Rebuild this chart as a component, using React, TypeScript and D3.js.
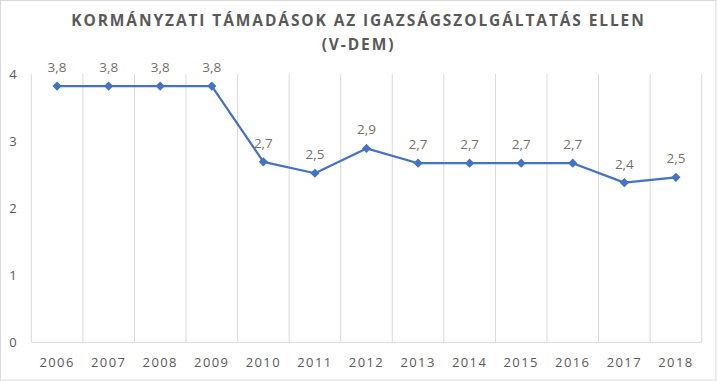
import React from "react";
import * as d3 from "d3";

const years = ["2006","2007","2008","2009","2010","2011","2012","2013","2014","2015","2016","2017","2018"];
const values = [3.82, 3.82, 3.82, 3.82, 2.69, 2.52, 2.89, 2.67, 2.67, 2.67, 2.67, 2.38, 2.46];
const yTicks = [0, 1, 2, 3, 4];
const titleLines = ["KORMÁNYZATI TÁMADÁSOK AZ IGAZSÁGSZOLGÁLTATÁS ELLEN", "(V-DEM)"];

const W = 717, H = 381;
const left = 31.3, right = 701.7, top = 74, bottom = 342.3;

export default function App() {
  const x = d3.scaleBand<string>().domain(years).range([left, right]);
  const y = d3.scaleLinear().domain([0, 4]).range([bottom, top]);
  const line = d3.line<number>()
    .x((_, i) => (x(years[i]) as number) + x.bandwidth() / 2)
    .y((d) => y(d));
  const fmt = (v: number) => d3.format(".1f")(v).replace(".", ",");
  const font = "'Open Sans', 'DejaVu Sans', sans-serif";
  const gridXs = [...years.map((yr) => x(yr) as number), right];
  const r = 4.6;
  const diamond = `M0,${-r}L${r},0L0,${r}L${-r},0Z`;
  return (
    <svg width={W} height={H} style={{ position: "absolute", left: 0, top: 0, background: "#fff" }}>
      <rect x={0.5} y={0.5} width={W - 1.5} height={H - 1.5} fill="#fff" stroke="#d9d9d9" />
      {titleLines.map((t, i) => (
        <text key={i} x={W / 2} y={26 + i * 24} textAnchor="middle" fontFamily={font}
          fontWeight={700} fontSize={15.5} letterSpacing={1.9} fill="#595959">{t}</text>
      ))}
      {gridXs.map((gx, i) => (
        <line key={i} x1={gx} x2={gx} y1={top} y2={bottom} stroke="#d9d9d9" strokeWidth={1} />
      ))}
      <line x1={left} x2={right} y1={bottom} y2={bottom} stroke="#d9d9d9" strokeWidth={1} />
      {yTicks.map((t) => (
        <text key={t} x={13} y={y(t) + 5} textAnchor="middle" fontFamily={font} fontSize={13} fill="#595959">{t}</text>
      ))}
      {years.map((yr) => (
        <text key={yr} x={(x(yr) as number) + x.bandwidth() / 2} y={367} textAnchor="middle"
          fontFamily={font} fontSize={13} letterSpacing={1.4} fill="#595959">{yr}</text>
      ))}
      <path d={line(values) as string} fill="none" stroke="#4472c4" strokeWidth={2.25} strokeLinejoin="round" />
      {values.map((v, i) => {
        const cx = (x(years[i]) as number) + x.bandwidth() / 2;
        return (
          <g key={i}>
            <path d={diamond} transform={`translate(${cx},${y(v)})`} fill="#4472c4" />
            <text x={cx} y={y(v) - 14} textAnchor="middle" fontFamily={font} fontSize={13.5} fill="#7a6f68">{fmt(v)}</text>
          </g>
        );
      })}
    </svg>
  );
}
